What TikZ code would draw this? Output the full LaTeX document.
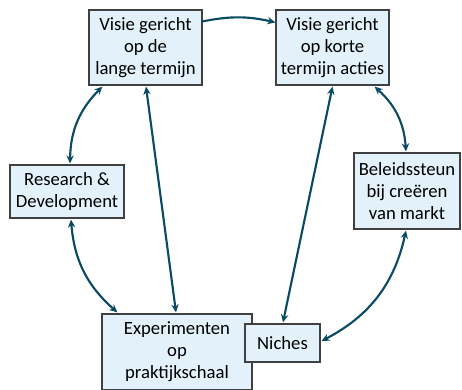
\documentclass[tikz,border=0pt]{standalone}
\usepackage{fontspec}
\setmainfont{Carlito}
\usetikzlibrary{arrows.meta,calc}

\begin{document}
\begin{tikzpicture}[x=0.75pt,y=-0.75pt,
  box/.style={draw=black!75,fill=boxfill,line width=0.9pt,align=center,
    inner sep=0pt,font=\fontsize{14}{16.5}\selectfont},
  link/.style={draw=arr,line width=1.6pt,{Stealth[length=6pt,width=5.5pt]}-{Stealth[length=6pt,width=5.5pt]}},
  oneway/.style={link,-{Stealth[length=6pt,width=5.5pt]}}]
 \definecolor{arr}{HTML}{0B4A63}
 \definecolor{boxfill}{HTML}{E3F2FA}
 \useasboundingbox (0,0) rectangle (462,390);
 \node[box,minimum width=84.75pt,minimum height=56.25pt] (lang) at (145.5,47.5) {Visie gericht\\op de\\lange termijn};
 \node[box,minimum width=84.75pt,minimum height=56.25pt] (kort) at (332.5,47.5) {Visie gericht\\op korte\\termijn acties};
 \node[box,minimum width=85.5pt,minimum height=39.75pt] (rd) at (67,191.5) {Research \&\\Development};
 \node[box,minimum width=79.5pt,minimum height=57pt] (beleid) at (407,191) {Beleidssteun\\bij creëren\\van markt};
 \node[box,minimum width=112.5pt,minimum height=57pt] (exp) at (177,352) {Experimenten\\op\\praktijkschaal};
 \node[box,minimum width=56.25pt,minimum height=28.5pt] (niche) at (282.5,343) {Niches};
 %
 \path[oneway] ($(lang.north east)+(0,12)$) to[bend left=12] ($(kort.north west)+(0,13)$);
 \path[link] ($(lang.south west)+(14,1)$) to[bend right=22] ($(rd.north)+(3,-1)$);
 \path[link] ($(lang.south)+(0.5,1)$) -- ($(exp.north)+(-1,-1)$);
 \path[link] ($(kort.south)+(0,1)$) -- ($(niche.north)+(0.5,-1)$);
 \path[link] ($(kort.south east)+(-15,1)$) to[bend left=22] ($(beleid.north)+(-1,-1)$);
 \path[link] ($(rd.south)+(4,1)$) to[bend right=22] ($(exp.north west)+(16,-1)$);
 \path[link] ($(beleid.south)+(-1,1)$) to[bend left=25] ($(niche.east)+(1,-2)$);
\end{tikzpicture}
\end{document}
